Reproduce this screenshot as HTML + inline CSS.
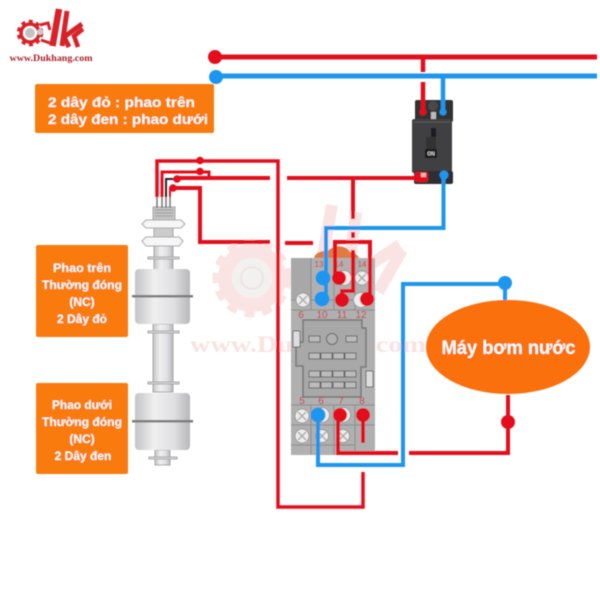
<!DOCTYPE html>
<html><head><meta charset="utf-8"><style>
html,body{margin:0;padding:0;background:#fff}
body{width:600px;height:600px;overflow:hidden}
svg{display:block}
text{font-family:"Liberation Sans",sans-serif}
</style></head><body>
<svg width="600" height="600" viewBox="0 0 600 600" xmlns="http://www.w3.org/2000/svg">
<defs>
<linearGradient id="m" x1="0" x2="1" y1="0" y2="0"><stop offset="0" stop-color="#c4c4c6"/><stop offset=".35" stop-color="#efeff0"/><stop offset=".7" stop-color="#e0e0e2"/><stop offset="1" stop-color="#b8b8bb"/></linearGradient>
<filter id="b" x="-5%" y="-5%" width="110%" height="110%"><feGaussianBlur stdDeviation="0.5"/></filter>
</defs>
<rect width="600" height="600" fill="#fff"/>
<g filter="url(#b)">
<!-- watermark -->
<g fill="none" stroke="#fae3e3">
<path d="M332 205L315 300M356 212L345 300M400 245L362 270M402 250L378 292" stroke-width="12"/>
<circle cx="252" cy="278" r="27" stroke-width="14"/>
<circle cx="252" cy="278" r="36" stroke-width="7" stroke-dasharray="10 8"/>
</g>
<circle cx="252" cy="278" r="20" fill="#f3f0f0"/>
<circle cx="252" cy="278" r="11" fill="none" stroke="#ece4e4" stroke-width="2"/>
<text x="190" y="352" font-size="23" font-weight="700" fill="#f9e2e2" style="font-family:'Liberation Serif',serif" textLength="236" lengthAdjust="spacingAndGlyphs">www.Dukhang.com</text>

<!-- logo -->
<g fill="none" stroke="#d8232a">
<circle cx="30" cy="33" r="9" stroke-width="3.500"/>
<circle cx="30" cy="33" r="11.500" stroke-width="3.500" stroke-dasharray="4 3.500"/>
<path d="M40 25L48 23L50 30M41 40L50 43" stroke-width="3"/>
<path d="M59 9L52.500 46" stroke-width="6.500"/>
<path d="M67 11L62 46" stroke-width="5"/>
<path d="M82 24L64 37L69 47" stroke-width="5"/>
<path d="M83 29L74 36L78 47" stroke-width="4.500"/>
</g>
<circle cx="30" cy="33" r="5" fill="#c2c2c2"/>
<circle cx="40" cy="32" r="3" fill="#c9c9c9"/>
<text x="9.500" y="61" font-size="9" font-weight="700" fill="#a8232c" style="font-family:'Liberation Serif',serif" textLength="83" lengthAdjust="spacingAndGlyphs">www.Dukhang.com</text>

<!-- top box -->
<rect x="35" y="84" width="179" height="49" rx="2" fill="#f97a0e"/>
<text x="48" y="107" font-size="14" font-weight="700" fill="#fff" textLength="147" lengthAdjust="spacingAndGlyphs">2 dây đỏ : phao trên</text>
<text x="48" y="124" font-size="14" font-weight="700" fill="#fff" textLength="160" lengthAdjust="spacingAndGlyphs">2 dây đen : phao dưới</text>

<!-- left boxes -->
<rect x="36" y="245" width="92" height="92" rx="2" fill="#f97a0e"/>
<g font-size="12" font-weight="700" fill="#fff" text-anchor="middle">
<text x="82" y="272" textLength="58" lengthAdjust="spacingAndGlyphs">Phao trên</text><text x="82" y="289" textLength="80" lengthAdjust="spacingAndGlyphs">Thường đóng</text><text x="82" y="306">(NC)</text><text x="82" y="323">2 Dây đỏ</text>
</g>
<rect x="36" y="383" width="92" height="91" rx="2" fill="#f97a0e"/>
<g font-size="12" font-weight="700" fill="#fff" text-anchor="middle">
<text x="82" y="409" textLength="60" lengthAdjust="spacingAndGlyphs">Phao dưới</text><text x="82" y="426" textLength="80" lengthAdjust="spacingAndGlyphs">Thường đóng</text><text x="82" y="443">(NC)</text><text x="83" y="460">2 Dây đen</text>
</g>

<!-- float switch -->
<g stroke="#a5a5a5" stroke-width="1">
<rect x="154" y="246" width="19" height="24" fill="url(#m)"/>
<rect x="148" y="257" width="31" height="2" fill="#ddd"/>
<rect x="153" y="207" width="22" height="13" fill="#c4c4c4"/>
<path d="M155 210H173M155 213H173M155 216H173" stroke="#999"/>
<path d="M146 220H181L185 224L181 228H146L142 224Z" fill="#f6f6f6"/>
<rect x="154" y="228" width="19" height="9" fill="#ccc"/>
<path d="M146 237H179L183 241L179 246H146L142 241Z" fill="#f6f6f6"/>
<rect x="153" y="324" width="20" height="68" fill="url(#m)"/>
<rect x="148" y="331" width="31" height="2" fill="#ddd"/>
<rect x="148" y="382" width="31" height="2" fill="#ddd"/>
<rect x="155" y="450" width="15" height="15" fill="url(#m)"/>
<rect x="149" y="457" width="28" height="2" fill="#ddd"/>
</g>
<rect x="135" y="269" width="55" height="55" rx="4" fill="url(#m)"/>
<rect x="132" y="295" width="61" height="2.500" fill="#7d7d7d"/>
<rect x="135" y="393" width="55" height="57" rx="4" fill="url(#m)"/>
<rect x="132" y="420" width="61" height="2.500" fill="#7d7d7d"/>
<path d="M157 208V197M162 208V197M166 208V197M170 208V197" stroke="#777" stroke-width="1.500"/>

<!-- relay -->
<rect x="291" y="258" width="84" height="197" fill="#b0b0b0"/>
<rect x="291" y="258" width="21" height="41" fill="#a8a8a8"/>
<path d="M314 258C316 251 323 251 328 251C334 244 346 245 350 252C354 252 357 254 359 258Z" fill="#e07a45"/>
<path d="M291 300H375M291 310H375M291 405H375M291 425H375M291 445H355M311 258V310M334 258V310M355 258V310M311 405V455M334 405V455M355 405V455" stroke="#8c8c8c" stroke-width="1" fill="none"/>
<path d="M303 320H362V328H366V367H361V397H303V366H296V342H303Z" fill="#a8a8a8" stroke="#777" stroke-width="1.500"/>
<rect x="293" y="331" width="7" height="16" fill="#ddd" stroke="#666"/>
<rect x="366" y="371" width="7" height="16" fill="#ddd" stroke="#666"/>
<g fill="#bbb" stroke="#666" stroke-width="1">
<rect x="309" y="336" width="11" height="6"/><rect x="346" y="336" width="11" height="6"/>
<circle cx="332" cy="339" r="5.500" fill="#b0b0b0"/>
<rect x="309" y="353" width="11" height="6"/><rect x="321" y="353" width="11" height="6"/><rect x="333" y="353" width="11" height="6"/><rect x="345" y="353" width="11" height="6"/>
<rect x="309" y="371" width="11" height="6"/><rect x="321" y="371" width="11" height="6"/><rect x="333" y="371" width="11" height="6"/><rect x="345" y="371" width="11" height="6"/>
<rect x="309" y="382" width="11" height="6"/><rect x="321" y="382" width="11" height="6"/><rect x="333" y="382" width="11" height="6"/><rect x="345" y="382" width="11" height="6"/>
</g>
<g fill="#ededed" stroke="#999">
<circle cx="303" cy="300" r="7"/>
<circle cx="362" cy="278" r="7"/>
<circle cx="344" cy="278" r="7.500"/>
<circle cx="361" cy="300" r="7.500"/>
<circle cx="302" cy="416" r="7"/>
<circle cx="302" cy="436" r="7"/>
<circle cx="322" cy="415" r="7.500"/>
<circle cx="322" cy="436" r="6.500"/>
<circle cx="343" cy="415" r="7.500"/>
<circle cx="343" cy="436" r="6.500"/>
</g>
<path d="M299 296L307 304M307 296L299 304M358 274L366 282M366 274L358 282M298 412L306 420M306 412L298 420M298 432L306 440M306 432L298 440M318 432L326 440M326 432L318 440M339 432L347 440M347 432L339 440" stroke="#aaa" stroke-width="1.500"/>
<g font-size="10" fill="#c8333a" text-anchor="middle">
<text x="301" y="318">6</text><text x="322" y="318">10</text><text x="342" y="318">11</text><text x="361" y="318">12</text>
<text x="302" y="404">5</text><text x="321" y="404">6</text><text x="341" y="404">7</text><text x="362" y="404">8</text>
<text x="319" y="267" font-size="8">13</text><text x="339" y="267" font-size="8">14</text><text x="362" y="267" font-size="8">14</text>
</g>

<!-- breaker -->
<rect x="415" y="100" width="38" height="22" rx="2" fill="#303032"/>
<rect x="412" y="119" width="40" height="54" rx="2" fill="#404042"/>
<rect x="414" y="171" width="39" height="13" rx="2" fill="#2e2e30"/>
<circle cx="433" cy="106" r="5" fill="#4a4a4c"/>
<rect x="431" y="112" width="5" height="7" fill="#bbb"/>
<rect x="431" y="128" width="5" height="12" fill="#1f1f21"/>
<rect x="426" y="137" width="10" height="12" fill="#333"/>
<rect x="425" y="149" width="12" height="9" fill="#1e1e1e"/>
<text x="431" y="155.500" font-size="5" font-weight="700" fill="#ddd" text-anchor="middle">ON</text>
<path d="M414 122H450" stroke="#5f5f61"/>
<rect x="415" y="172" width="13" height="10" rx="2" fill="#e2101c"/>
<rect x="421" y="173" width="5" height="4" fill="#f5b5b5"/>

<!-- red wires -->
<g fill="none" stroke="#e3111f">
<path d="M215 57H597" stroke-width="5"/>
<path d="M423 59V72M423 82V113" stroke-width="4.500"/>
<path d="M157 197V161H278V507H363V472" stroke-width="3.500"/>
<path d="M162 197V172H209V178" stroke-width="3"/>
<path d="M176 178H270M287 178H420" stroke-width="4"/>
<path d="M353 178V219M353 232V238" stroke-width="4"/>
<path d="M173 188H200V242H270M285 243H313" stroke-width="4"/>
<path d="M335 278V242H370V298" stroke-width="4"/>
<path d="M342 300V291H353V250" stroke-width="4"/>
<path d="M338 415V453H398M409 453H508V395" stroke-width="4"/>
<path d="M363 415V443" stroke-width="4"/>
</g>
<path d="M166 197V179H176" fill="none" stroke="#222" stroke-width="2"/>
<path d="M170 197V188H174" fill="none" stroke="#e3111f" stroke-width="2"/>
<g fill="#e3111f">
<circle cx="215" cy="57" r="7"/>
<circle cx="200" cy="160.500" r="3.800"/>
<circle cx="200" cy="171.500" r="3.800"/>
<circle cx="177" cy="179" r="3.800"/>
<circle cx="173" cy="188" r="3.800"/>
<circle cx="423" cy="112" r="3.500"/>
<circle cx="339" cy="278" r="7"/>
<circle cx="342" cy="300" r="7"/>
<circle cx="367" cy="299" r="7"/>
<circle cx="340" cy="415" r="7"/>
<circle cx="363" cy="415" r="7"/>
<circle cx="508" cy="422" r="7"/>
</g>

<!-- ellipse -->
<path d="M505 284V302" stroke="#1e96ee" stroke-width="4"/>
<ellipse cx="508" cy="347" rx="82" ry="47" fill="#f9700a"/>
<text x="508.500" y="354" font-size="19" font-weight="700" fill="#fff" text-anchor="middle" textLength="134" lengthAdjust="spacingAndGlyphs">Máy bơm nước</text>

<!-- blue wires -->
<g fill="none" stroke="#1e96ee" stroke-width="4">
<path d="M216 76H597" stroke-width="5"/>
<path d="M443 76V112" stroke-width="4.500"/>
<path d="M443.500 175V228H326V296"/>
<path d="M505 284H403V465H318V415"/>
</g>
<g fill="#1e96ee">
<circle cx="216" cy="77" r="7"/>
<circle cx="443" cy="112" r="3.500"/>
<circle cx="444" cy="175" r="4.500"/>
<circle cx="323" cy="278" r="7.500"/>
<circle cx="322" cy="299" r="7.500"/>
<circle cx="505" cy="283" r="7"/>
<circle cx="318" cy="415" r="7.500"/>
</g>
</g>
</svg>
</body></html>
